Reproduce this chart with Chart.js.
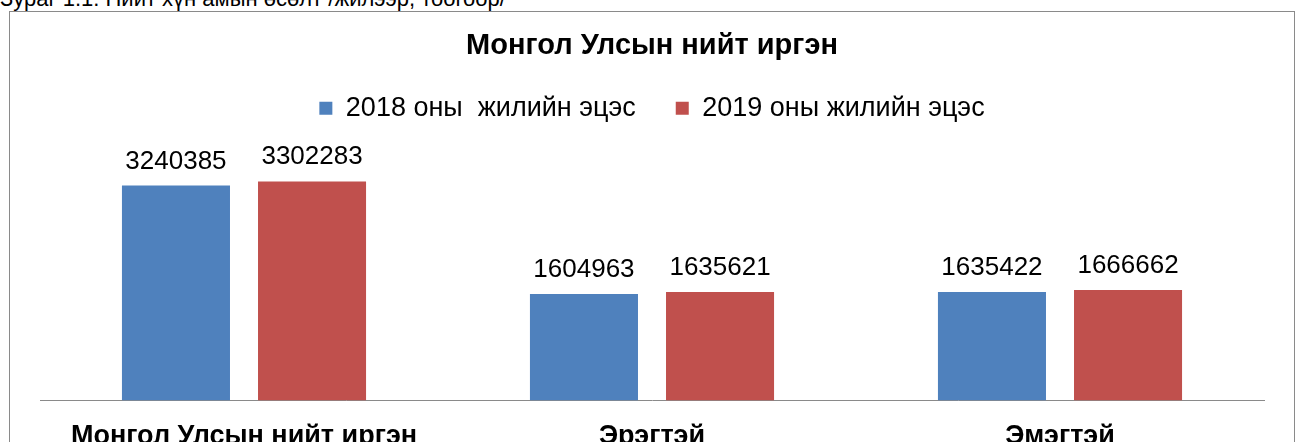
<!DOCTYPE html>
<html>
<head>
<meta charset="utf-8">
<script src="https://cdn.jsdelivr.net/npm/chart.js@4/dist/chart.umd.min.js"></script>
<style>
  html, body { margin: 0; padding: 0; background: #fff; }
  body { width: 1300px; height: 442px; overflow: hidden; position: relative; font-family: "Liberation Sans", Arial, sans-serif; }
  #caption { position: absolute; left: 0; top: -12px; font-size: 22px; line-height: 22px; color: #000; white-space: nowrap; }
  #frame { position: absolute; left: 9px; top: 11px; width: 1284px; height: 520px; border: 1px solid #8a8a8a; }
  #wrap { position: absolute; left: 0; top: 0; width: 1300px; height: 473px; }
</style>
</head>
<body>
<div id="caption">Зураг 1.1. Нийт хүн амын өсөлт /жилээр, тоогоор/</div>
<div id="frame"></div>
<div id="wrap"><canvas id="chart" width="1300" height="473"></canvas></div>
<script>
'use strict';

const categories = ['Монгол Улсын нийт иргэн', 'Эрэгтэй', 'Эмэгтэй'];
const seriesNames = ['2018 оны  жилийн эцэс', '2019 оны жилийн эцэс'];
const values2018 = [3240385, 1604963, 1635422];
const values2019 = [3302283, 1635621, 1666662];
const seriesColors = ['#4F81BD', '#C0504D'];

const FONT = '"Liberation Sans", Arial, sans-serif';

// draws the number above every bar, like the excel data labels
const valueLabels = {
  id: 'valueLabels',
  afterDatasetsDraw(chart) {
    const ctx = chart.ctx;
    ctx.save();
    ctx.font = '26px ' + FONT;
    ctx.fillStyle = '#000';
    ctx.textAlign = 'center';
    ctx.textBaseline = 'alphabetic';
    chart.data.datasets.forEach((ds, i) => {
      chart.getDatasetMeta(i).data.forEach((bar, j) => {
        ctx.fillText(String(ds.data[j]), bar.x, bar.y - 17);
      });
    });
    ctx.restore();
  }
};

new Chart(document.getElementById('chart'), {
  type: 'bar',
  data: {
    labels: categories,
    datasets: [
      { label: seriesNames[0], data: values2018, backgroundColor: seriesColors[0] },
      { label: seriesNames[1], data: values2019, backgroundColor: seriesColors[1] },
    ],
  },
  options: {
    responsive: false,
    animation: false,
    layout: { padding: { left: 40, right: 36, top: 0, bottom: 0 } },
    datasets: { bar: { categoryPercentage: 0.667, barPercentage: 0.794 } },
    plugins: {
      tooltip: { enabled: false },
      title: {
        display: true,
        text: 'Монгол Улсын нийт иргэн',
        color: '#000',
        font: { family: FONT, size: 29, weight: 'bold', lineHeight: 1.2 },
        padding: { top: 29, bottom: 21 },
      },
      legend: {
        display: true,
        labels: {
          color: '#000',
          boxWidth: 13,
          boxHeight: 13,
          padding: 10,
          font: { family: FONT, size: 27 },
          // wider gap after the first item, as in the original legend
          generateLabels(chart) {
            const items = Chart.defaults.plugins.legend.labels.generateLabels(chart);
            items[0].text += '    ';
            return items;
          },
        },
      },
    },
    scales: {
      x: {
        grid: { display: true, color: 'transparent', drawTicks: false },
        border: { display: true, color: '#8a8a8a', width: 1 },
        ticks: {
          color: '#000',
          padding: 20,
          font: { family: FONT, size: 27, weight: 'bold' },
        },
      },
      y: {
        display: false,
        min: 0,
        max: 4050000,
      },
    },
  },
  plugins: [valueLabels],
});
</script>
</body>
</html>
